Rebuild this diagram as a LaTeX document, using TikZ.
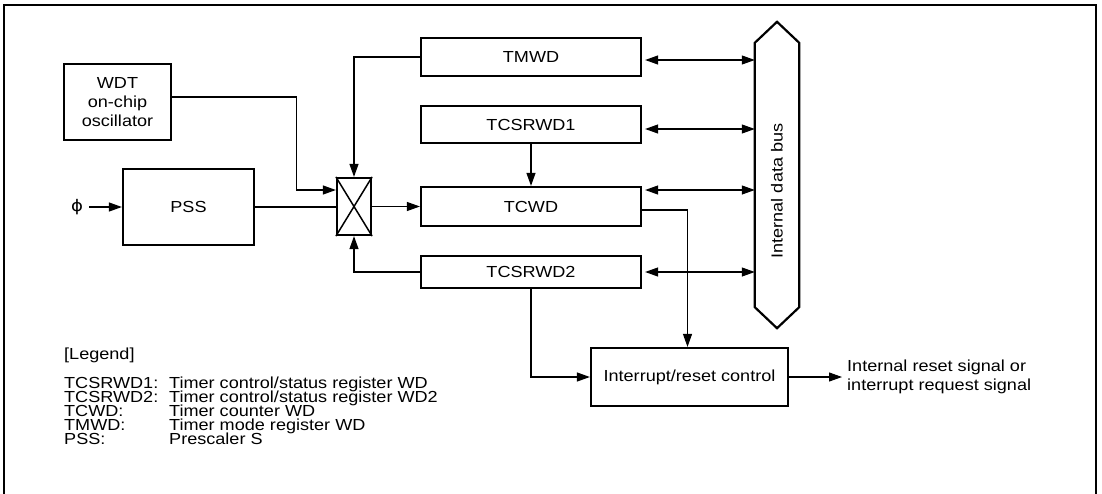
\documentclass[tikz,border=0pt]{standalone}
\usepackage{fontspec}
\setmainfont[FakeStretch=1.13]{Liberation Sans}
\newfontfamily\symfont[FakeStretch=1.13]{DejaVu Sans}
\usetikzlibrary{arrows.meta,positioning}

\begin{document}
\begin{tikzpicture}[
  x=1pt, y=-1pt,
  every node/.style={font=\fontsize{16}{19}\selectfont},
  box/.style={draw, line width=2.2pt, inner sep=0pt, align=center},
  txt/.style={inner sep=0pt, anchor=base west},
  wire/.style={line width=1.1pt},
  arr/.style={-{Triangle[length=13pt,width=9pt]}, line width=1.1pt},
  biarr/.style={{Triangle[length=13pt,width=9pt]}-{Triangle[length=13pt,width=9pt]},
                line width=1.1pt, shorten <=3pt}
]
\useasboundingbox (0,0) rectangle (1102,493);
\draw[line width=2pt] (3.5,5) rectangle (1096,520);

\node[box, minimum width=107pt, minimum height=76pt] (wdt) at (117.5,102) {WDT\\on-chip\\oscillator};
\node[box, minimum width=131pt, minimum height=76pt] (pss) at (188.5,207) {PSS};
\node[inner sep=6pt, font=\symfont\fontsize{16}{19}\selectfont] (phi) at (77,207) {ϕ};
\node[box, minimum width=34pt, minimum height=57pt] (sw) at (354,206.5) {};
\node[box, minimum width=220pt, minimum height=38pt] (tmwd) at (531,57) {TMWD};
\node[box, minimum width=220pt, minimum height=37pt] (tcsrwd1) at (531,124.5) {TCSRWD1};
\node[box, minimum width=220pt, minimum height=39pt] (tcwd) at (531,206.5) {TCWD};
\node[box, minimum width=220pt, minimum height=32pt] (tcsrwd2) at (531,272) {TCSRWD2};
\node[box, minimum width=197pt, minimum height=58pt] (irc) at (689.5,377) {Interrupt/reset control};
\node[minimum width=44pt, minimum height=264pt, inner sep=0pt] (bus) at (777,175) {};
\node[rotate=90] (buslabel) at (777,191) {Internal data bus};
\node[anchor=west, inner xsep=5pt, inner ysep=0pt, align=left] (out) at (842,377)
  {Internal reset signal or\\interrupt request signal};

\draw[line width=2.2pt] (bus.north west) -- ([yshift=21pt]bus.north) -- (bus.north east)
  -- (bus.south east) -- ([yshift=-21pt]bus.south) -- (bus.south west) -- cycle;
\draw[line width=1.5pt] (sw.north west) -- (sw.south east) (sw.north east) -- (sw.south west);

\node[txt] (legend) at (64,359) {[Legend]};
\node[txt] (key1) at (64,388) {TCSRWD1:};
\node[txt] (desc1) at (169,388) {Timer control/status register WD};
\node[txt] (key2) at (64,402) {TCSRWD2:};
\node[txt] (desc2) at (169,402) {Timer control/status register WD2};
\node[txt] (key3) at (64,416) {TCWD:};
\node[txt] (desc3) at (169,416) {Timer counter WD};
\node[txt] (key4) at (64,430) {TMWD:};
\node[txt] (desc4) at (169,430) {Timer mode register WD};
\node[txt] (key5) at (64,444) {PSS:};
\node[txt] (desc5) at (169,444) {Prescaler S};

\coordinate (wdtR) at ([yshift=5pt]wdt.east);
\coordinate (swL) at ([yshift=16.5pt]sw.west);
\coordinate (tcwdR) at ([yshift=-3.5pt]tcwd.east);
\coordinate (tmwdR) at ([yshift=-3pt]tmwd.east);
\coordinate (tcsrwd1R) at ([yshift=-4.5pt]tcsrwd1.east);
\coordinate (tcwdU) at ([yshift=16.5pt]tcwd.east);

\draw[arr] (phi.east) -- (pss.west);
\draw[arr] (wdtR) -| ([xshift=-39pt]swL) -- (swL);
\draw[wire] (pss.east) -- (pss.east -| sw.west);
\draw[arr] (sw.east) -- (sw.east -| tcwd.west);
\draw[arr] (tmwd.west) -| (sw.north);
\draw[arr] (tcsrwd2.west) -| (sw.south);
\draw[arr] (tcsrwd1.south) -- (tcwd.north);
\draw[arr] (tcwdR) -| ([xshift=-2pt]irc.north);
\draw[arr] (tcsrwd2.south) |- (irc.west);
\draw[arr] (irc.east) -- (out.west);

\draw[biarr] (tmwdR) -- (tmwdR -| bus.west);
\draw[biarr] (tcsrwd1R) -- (tcsrwd1R -| bus.west);
\draw[biarr] (tcwdU) -- (tcwdU -| bus.west);
\draw[biarr] (tcsrwd2.east) -- (tcsrwd2.east -| bus.west);
\end{tikzpicture}
\end{document}
